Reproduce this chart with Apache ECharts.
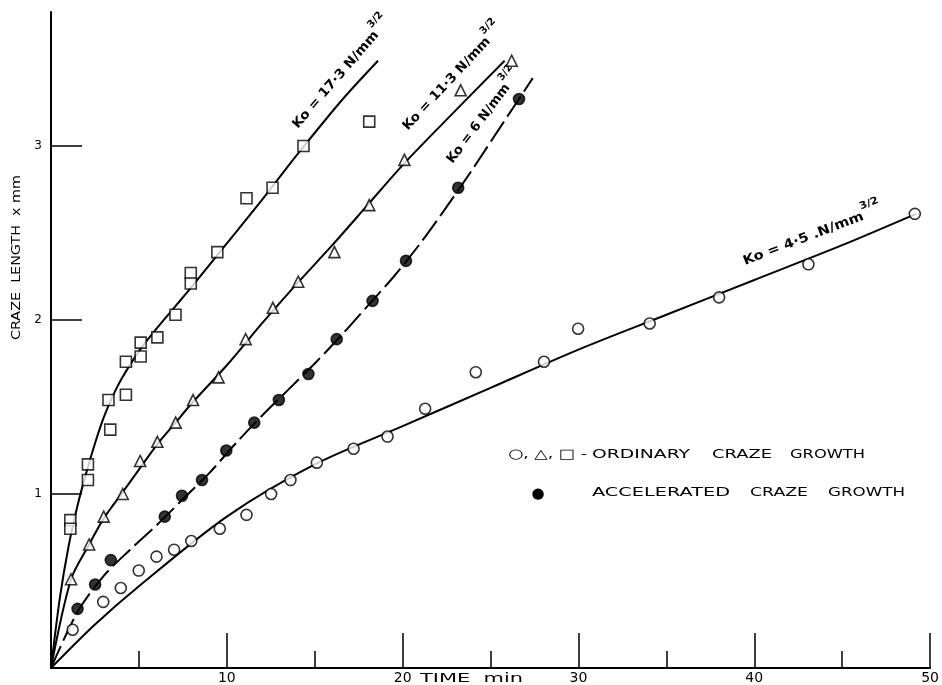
<!DOCTYPE html>
<html><head><meta charset="utf-8">
<script src="https://cdn.jsdelivr.net/npm/echarts@6/dist/echarts.min.js"></script>
<style>html,body{margin:0;padding:0;background:#fff}#c{width:942px;height:685px}</style>
</head><body><div id="c"></div>
<script>
// ---- tick labels ----
const xTickLabels = [10, 20, 30, 40, 50];
const yTickLabels = [1, 2, 3];

// ---- measured points (time min, craze length mm) ----
// Ko = 17.3 (open squares)
const sqX = [1.1, 1.1, 2.1, 2.1, 3.27, 3.37, 4.26, 4.26, 5.1, 5.1, 6.05, 7.08, 7.95, 7.95, 9.46, 11.12, 12.6, 14.36, 18.1];
const sqY = [0.85, 0.80, 1.17, 1.08, 1.54, 1.37, 1.57, 1.76, 1.87, 1.79, 1.90, 2.03, 2.27, 2.21, 2.39, 2.70, 2.76, 3.00, 3.14];
// Ko = 11.3 (open triangles)
const triX = [1.14, 2.17, 3.0, 4.08, 5.07, 6.05, 7.09, 8.08, 9.53, 11.07, 12.62, 14.06, 16.12, 18.1, 20.1, 23.3, 26.2];
const triY = [0.51, 0.71, 0.87, 1.00, 1.19, 1.30, 1.41, 1.54, 1.67, 1.89, 2.07, 2.22, 2.39, 2.66, 2.92, 3.32, 3.49];
// Ko = 6 (filled circles, accelerated growth)
const dotX = [1.51, 2.51, 3.4, 6.47, 7.45, 8.59, 9.97, 11.56, 12.96, 14.64, 16.25, 18.29, 20.19, 23.16, 26.62];
const dotY = [0.34, 0.48, 0.62, 0.87, 0.99, 1.08, 1.25, 1.41, 1.54, 1.69, 1.89, 2.11, 2.34, 2.76, 3.27];
// Ko = 4.5 (open circles)
const ringX = [1.23, 2.97, 3.97, 4.99, 6.0, 7.0, 7.98, 9.6, 11.12, 12.52, 13.62, 15.12, 17.21, 19.14, 21.28, 24.16, 28.04, 29.98, 34.05, 38.0, 43.08, 49.13];
const ringY = [0.22, 0.38, 0.46, 0.56, 0.64, 0.68, 0.73, 0.80, 0.88, 1.00, 1.08, 1.18, 1.26, 1.33, 1.49, 1.70, 1.76, 1.95, 1.98, 2.13, 2.32, 2.61];

// ---- drawn curves ----
const c173X = [0, 0.5, 1.0, 1.5, 2, 2.5, 3, 3.5, 4, 5, 6, 7, 8, 10, 12, 14, 16.6, 18.6];
const c173Y = [0, 0.40, 0.70, 0.93, 1.12, 1.29, 1.44, 1.56, 1.66, 1.82, 1.95, 2.07, 2.19, 2.44, 2.69, 2.95, 3.27, 3.49];
const c113X = [0, 1.14, 2.17, 3, 4, 5, 6, 7, 8, 10, 12, 14, 16, 18, 20, 22, 25.8];
const c113Y = [0, 0.51, 0.71, 0.86, 1.00, 1.14, 1.28, 1.40, 1.52, 1.74, 1.98, 2.21, 2.43, 2.66, 2.89, 3.10, 3.49];
const c6X = [0, 1.5, 3, 4.5, 6, 7.5, 9, 10.5, 12, 13.5, 15, 16.5, 18, 19.5, 21, 22.5, 24, 25.5, 27.4];
const c6Y = [0, 0.32, 0.53, 0.68, 0.82, 0.97, 1.12, 1.29, 1.45, 1.60, 1.75, 1.91, 2.08, 2.25, 2.44, 2.65, 2.87, 3.10, 3.39];
const c45X = [0, 2.5, 5, 10, 15, 20, 25, 30, 35, 40, 45, 49.2];
const c45Y = [0, 0.25, 0.47, 0.87, 1.17, 1.39, 1.61, 1.83, 2.03, 2.23, 2.43, 2.61];

// ---- texts ----
const curveLabels = ['Ko = 17·3 N/mm', 'Ko = 11·3 N/mm', 'Ko = 6 N/mm', 'Ko = 4·5 .N/mm'];
const supText = '3/2';
const legendLine1 = ['○, △, □ -', 'ORDINARY', 'CRAZE', 'GROWTH'];
const legendLine2 = ['●', 'ACCELERATED', 'CRAZE', 'GROWTH'];
const yTitle = 'CRAZE  LENGTH  x mm';
const xTitle = 'TIME  min';

const zip = (a, b) => a.map((v, i) => [v, b[i]]);
const FONT = '"DejaVu Sans", sans-serif';

const cv = document.createElement('canvas').getContext('2d');
function measure(t, size, weight) {
  cv.font = (weight || 'normal') + ' ' + size + 'px ' + FONT;
  return cv.measureText(t).width;
}
// text stretched horizontally to span [x0, x1]
function fitText(t, x0, x1, yc, size, weight) {
  const w = measure(t, size, weight);
  return {
    type: 'text', x: x0, y: yc, scaleX: (x1 - x0) / w,
    style: { text: t, fill: '#000', font: (weight || 'normal') + ' ' + size + 'px ' + FONT,
             align: 'left', verticalAlign: 'middle' }
  };
}
function curveLabel(t, x, y, deg, len) {
  const w = measure(t, 13, 'bold');
  return {
    type: 'text', x: x, y: y, rotation: deg * Math.PI / 180, scaleX: len / w,
    style: {
      text: '{m|' + t + '}{s|' + supText + '}',
      align: 'left', verticalAlign: 'bottom', fill: '#000',
      rich: {
        m: { fontSize: 13, fontFamily: FONT, fontWeight: 'bold', lineHeight: 21, verticalAlign: 'bottom', fill: '#000' },
        s: { fontSize: 10, fontFamily: FONT, fontWeight: 'bold', lineHeight: 21, verticalAlign: 'top', fill: '#000' }
      }
    }
  };
}

const chart = echarts.init(document.getElementById('c'), null, { renderer: 'canvas' });

function curve(x, y, dashed) {
  return {
    type: 'line', data: zip(x, y), showSymbol: false, symbol: 'none', silent: true,
    smooth: 0.3, z: 2,
    lineStyle: Object.assign({ color: '#000', width: 2 }, dashed ? { type: [24, 6] } : {})
  };
}
function pts(x, y, symbol, filled, size) {
  return {
    type: 'scatter', data: zip(x, y), symbol: symbol, symbolSize: size, z: 5, silent: true,
    itemStyle: { color: filled ? '#000' : '#fff', borderColor: '#000', borderWidth: 1.6 }
  };
}

const option = {
  backgroundColor: '#fff',
  animation: false,
  grid: { left: 51, right: 10, top: 12, bottom: 17, containLabel: false },
  xAxis: {
    type: 'value', min: 0, max: 50, interval: 10,
    axisLine: { show: true, lineStyle: { color: '#000', width: 2 } },
    axisTick: { show: true, inside: true, length: 35, lineStyle: { color: '#000', width: 1.5 } },
    minorTick: { show: true, splitNumber: 2, length: 17, lineStyle: { color: '#000', width: 1.5 } },
    axisLabel: { customValues: xTickLabels, color: '#000', fontSize: 14, fontFamily: FONT, margin: 3 },
    splitLine: { show: false }
  },
  yAxis: {
    type: 'value', min: 0, max: 3.77, interval: 1,
    axisLine: { show: true, lineStyle: { color: '#000', width: 2 } },
    axisTick: { show: true, inside: true, length: 31, customValues: yTickLabels, lineStyle: { color: '#000', width: 1.5 } },
    axisLabel: { customValues: yTickLabels, color: '#000', fontSize: 12, fontFamily: FONT, margin: 9 },
    splitLine: { show: false }
  },
  series: [
    curve(c173X, c173Y, false),
    curve(c113X, c113Y, false),
    curve(c6X, c6Y, true),
    curve(c45X, c45Y, false),
    pts(sqX, sqY, 'rect', false, 11),
    pts(triX, triY, 'triangle', false, 11),
    pts(dotX, dotY, 'circle', true, 11),
    pts(ringX, ringY, 'circle', false, 11)
  ],
  graphic: [
    Object.assign(fitText(yTitle, 0, 165, 0, 13), { x: 17, y: 340, rotation: Math.PI / 2 }),
    fitText(xTitle, 420, 523, 679, 13),
    fitText(legendLine1[0], 508, 587, 455, 13),
    fitText(legendLine1[1], 592, 690, 455, 13),
    fitText(legendLine1[2], 712, 772, 455, 13),
    fitText(legendLine1[3], 790, 865, 455, 13),
    { type: 'text', x: 538, y: 494, style: { text: legendLine2[0], font: 'normal 15px ' + FONT, fill: '#000', align: 'center', verticalAlign: 'middle' } },
    fitText(legendLine2[1], 592, 730, 493, 13),
    fitText(legendLine2[2], 750, 808, 493, 13),
    fitText(legendLine2[3], 828, 905, 493, 13),
    curveLabel(curveLabels[0], 300, 131, 49, 124),
    curveLabel(curveLabels[1], 410, 133, 47, 122),
    curveLabel(curveLabels[2], 455, 166, 53, 96),
    curveLabel(curveLabels[3], 746, 268, 21, 128)
  ]
};
chart.setOption(option);
</script>
</body></html>
